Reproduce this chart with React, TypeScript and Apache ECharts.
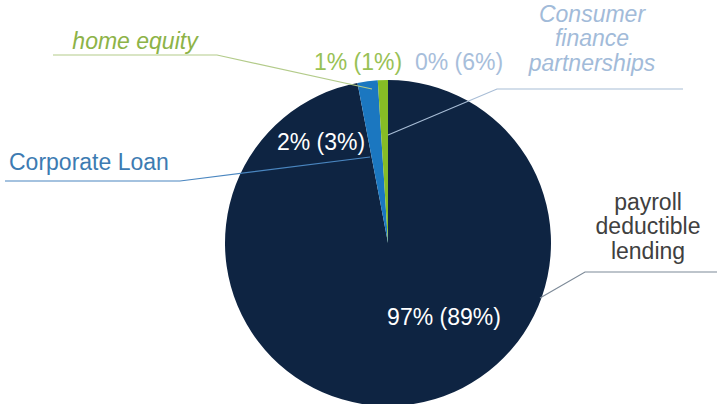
import React, { useEffect, useRef } from "react";
import * as echarts from "echarts";

const categories = [
  "payroll\ndeductible\nlending",
  "Corporate Loan",
  "home equity",
  "Consumer\nfinance\npartnerships",
];
const shares = [97, 2, 1, 0];
const priorShares = [89, 3, 1, 6];

const sliceColors = ["#0e2442", "#1b77c0", "#86bc25", "#a9c1de"];
const pctColors = ["#ffffff", "#ffffff", "#98c155", "#a7bedb"];
const nameColors = ["#404040", "#3d7bb2", "#8db347", "#a2bbd9"];
const lineColors = ["#7d8a98", "#4a86c0", "#b3cb8a", "#a8bdd6"];
const nameItalic = [false, false, true, true];

// label placement (pixels)
const pctPos: [number, number][] = [
  [444, 317],
  [321, 142],
  [358, 62],
  [459, 62],
];
const namePos: { x: number; y: number; align: string }[] = [
  { x: 648, y: 226, align: "center" },
  { x: 9, y: 162, align: "left" },
  { x: 135, y: 41, align: "center" },
  { x: 592, y: 38, align: "center" },
];
const linePts: number[][][] = [
  [[540, 298], [585, 272], [717, 272]],
  [[370, 157], [180, 181], [5, 181]],
  [[372, 89], [217, 55], [53, 55]],
  [[388, 135], [497, 89], [683, 89]],
];

const FONT = "'Liberation Sans', Arial, sans-serif";

export default function App() {
  const ref = useRef<HTMLDivElement>(null);
  useEffect(() => {
    if (!ref.current) return;
    const chart = echarts.init(ref.current, null, { renderer: "svg" });
    const pctData = categories.map((c, i) => ({
      name: c,
      value: shares[i],
      itemStyle: { color: sliceColors[i] },
      label: { color: pctColors[i] },
    }));
    const nameData = categories.map((c, i) => ({
      name: c,
      value: shares[i],
      itemStyle: { color: "rgba(0,0,0,0)" },
      label: {
        color: nameColors[i],
        fontStyle: nameItalic[i] ? "italic" : "normal",
      },
      labelLine: { lineStyle: { color: lineColors[i], width: 1.2 } },
    }));
    chart.setOption({
      animation: false,
      backgroundColor: "#ffffff",
      series: [
        {
          type: "pie",
          center: [388, 243],
          radius: 163,
          startAngle: 90,
          clockwise: true,
          avoidLabelOverlap: false,
          silent: true,
          data: pctData,
          label: {
            show: true,
            position: "inside",
            fontFamily: FONT,
            fontSize: 23,
            formatter: (p: any) =>
              `${shares[p.dataIndex]}% (${priorShares[p.dataIndex]}%)`,
          },
          labelLine: { show: false },
          labelLayout: (p: any) => ({
            x: pctPos[p.dataIndex][0],
            y: pctPos[p.dataIndex][1],
            align: "center",
            verticalAlign: "middle",
          }),
        },
        {
          type: "pie",
          center: [388, 243],
          radius: 163,
          startAngle: 90,
          clockwise: true,
          avoidLabelOverlap: false,
          silent: true,
          z: 3,
          data: nameData,
          label: {
            show: true,
            position: "outside",
            fontFamily: FONT,
            fontSize: 23,
            lineHeight: 24.5,
            align: "center",
            formatter: (p: any) => categories[p.dataIndex],
          },
          labelLine: { show: true, length: 10, length2: 10, smooth: false },
          labelLayout: (p: any) => {
            const np = namePos[p.dataIndex];
            return {
              x: np.x,
              y: np.y,
              align: np.align,
              verticalAlign: "middle",
              labelLinePoints: linePts[p.dataIndex],
            };
          },
        },
      ],
    });
    return () => chart.dispose();
  }, []);
  return (
    <div
      ref={ref}
      style={{ position: "fixed", left: 0, top: 0, width: 717, height: 404, background: "#fff" }}
    />
  );
}
